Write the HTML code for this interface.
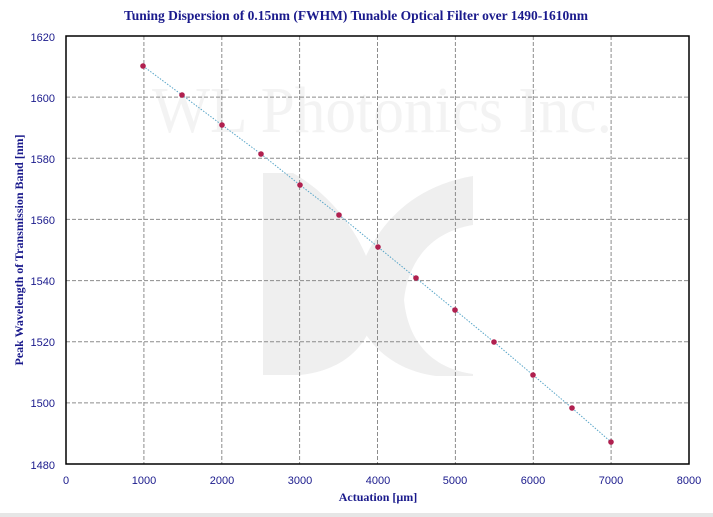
<!DOCTYPE html>
<html><head><meta charset="utf-8"><style>
html,body{margin:0;padding:0;background:#fff;width:713px;height:517px;overflow:hidden}
</style></head><body>
<svg width="713" height="517" xmlns="http://www.w3.org/2000/svg" font-family="Liberation Serif, serif">
<rect x="0" y="513" width="713" height="4" fill="#e6e6e6"/>
<text x="356" y="20" text-anchor="middle" font-size="13.5" font-weight="bold" fill="#1a1a8c">Tuning Dispersion of 0.15nm (FWHM) Tunable Optical Filter over 1490-1610nm</text>
<!-- watermark -->
<text x="152" y="132" font-size="66" fill="#f3f3f3" textLength="460" lengthAdjust="spacingAndGlyphs">WL Photonics Inc.</text>
<path fill="#efefef" d="M263 173 H293 C340 200 372 250 378 300 C372 345 345 370 300 375 H263 Z"/>
<path fill="#efefef" d="M473 176 V225 C430 232 408 262 404 300 C408 340 430 368 473 374 V376 H436 C390 370 360 340 352 300 C360 255 390 190 473 176 Z"/>
<!-- grid -->
<g stroke="#8c8c8c" stroke-width="1" stroke-dasharray="4,2">
<line x1="143.9" y1="36" x2="143.9" y2="464"/><line x1="221.8" y1="36" x2="221.8" y2="464"/>
<line x1="299.6" y1="36" x2="299.6" y2="464"/><line x1="377.5" y1="36" x2="377.5" y2="464"/>
<line x1="455.4" y1="36" x2="455.4" y2="464"/><line x1="533.3" y1="36" x2="533.3" y2="464"/>
<line x1="611.1" y1="36" x2="611.1" y2="464"/>
<line x1="66" y1="97.1" x2="689" y2="97.1"/><line x1="66" y1="158.3" x2="689" y2="158.3"/>
<line x1="66" y1="219.4" x2="689" y2="219.4"/><line x1="66" y1="280.6" x2="689" y2="280.6"/>
<line x1="66" y1="341.7" x2="689" y2="341.7"/><line x1="66" y1="402.9" x2="689" y2="402.9"/>
</g>
<rect x="66" y="36" width="623" height="428" fill="none" stroke="#000" stroke-width="1.5"/>
<polyline fill="none" stroke="#5aa6c8" stroke-width="1" stroke-dasharray="1.5,1.5" points="143,66 182,95 222,125 261,154 300,185 339,215 378,247 416,278 455,310 494,342 533,375 572,408 611,442"/>
<g fill="#b0204f">
<circle cx="143" cy="66" r="2.8"/><circle cx="182" cy="95" r="2.8"/><circle cx="222" cy="125" r="2.8"/><circle cx="261" cy="154" r="2.8"/><circle cx="300" cy="185" r="2.8"/><circle cx="339" cy="215" r="2.8"/><circle cx="378" cy="247" r="2.8"/><circle cx="416" cy="278" r="2.8"/><circle cx="455" cy="310" r="2.8"/><circle cx="494" cy="342" r="2.8"/><circle cx="533" cy="375" r="2.8"/><circle cx="572" cy="408" r="2.8"/><circle cx="611" cy="442" r="2.8"/>
</g>
<g font-size="11" fill="#1a1a8c" text-anchor="end" font-family="Liberation Sans, sans-serif">
<text x="55" y="41">1620</text><text x="55" y="102">1600</text><text x="55" y="163">1580</text>
<text x="55" y="224">1560</text><text x="55" y="285">1540</text><text x="55" y="346">1520</text>
<text x="55" y="407">1500</text><text x="55" y="469">1480</text>
</g>
<g font-size="11" fill="#1a1a8c" text-anchor="middle" font-family="Liberation Sans, sans-serif">
<text x="66" y="484">0</text><text x="144" y="484">1000</text><text x="222" y="484">2000</text>
<text x="300" y="484">3000</text><text x="378" y="484">4000</text><text x="455" y="484">5000</text>
<text x="533" y="484">6000</text><text x="611" y="484">7000</text><text x="689" y="484">8000</text>
</g>
<text x="378" y="501" text-anchor="middle" font-size="12" font-weight="bold" fill="#1a1a8c">Actuation [µm]</text>
<text transform="translate(23,250) rotate(-90)" text-anchor="middle" font-size="12" font-weight="bold" fill="#1a1a8c">Peak Wavelength of Transmission Band [nm]</text>
</svg>
</body></html>
